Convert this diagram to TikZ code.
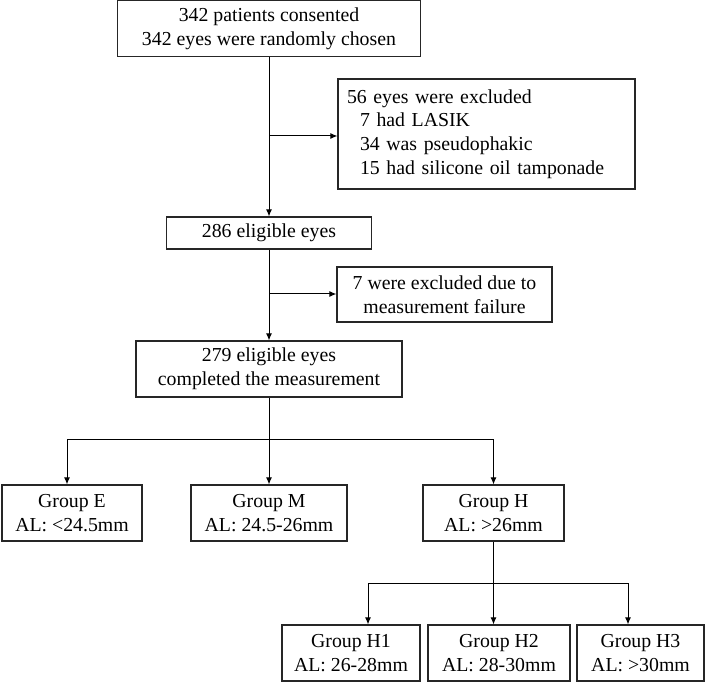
\documentclass[tikz,border=0pt]{standalone}
\usepackage{fontspec}
\setmainfont{Liberation Serif}
\usetikzlibrary{arrows.meta,calc}

\begin{document}
\begin{tikzpicture}[x=0.5pt,y=-0.5pt]

\tikzstyle{box} = [draw=black!85, line width=0.6pt, inner sep=0,
    align=center, minimum height=28pt, font=\fontsize{9.9}{11.8}\selectfont]
\tikzstyle{line} = [draw=black, line width=0.5pt]
\tikzstyle{arrow} = [line, -{Latex[length=3.5pt,width=3pt]}]

\useasboundingbox (0,0) rectangle (710,683);

% =========================
% screening and exclusions
% =========================
\node[box, minimum width=151.5pt] (consent) at (269,28.5)
    {342 patients consented\\342 eyes were randomly chosen};
\node[box, minimum height=55pt, align=left, inner xsep=4.5pt, text width=139.5pt]
    (excl1) at (486.5,134)
    {56 eyes were excluded\\
     \hspace*{6.5pt}7 had LASIK\\
     \hspace*{6.5pt}34 was pseudophakic\\
     \hspace*{6.5pt}15 had silicone oil tamponade};
\node[box, minimum width=102.5pt, minimum height=16pt] (eligible) at (269,233)
    {286 eligible eyes};
\node[box, minimum width=107.5pt, minimum height=27.5pt] (excl2) at (444.5,294.5)
    {7 were excluded due to\\measurement failure};
\node[box, minimum width=133pt] (measured) at (269,369)
    {279 eligible eyes\\completed the measurement};

% =========================
% axial length groups
% =========================
\node[box, minimum width=70pt] (gE) at (72,513) {Group E\\AL: <24.5mm};
\node[box, minimum width=78pt] (gM) at (269,513) {Group M\\AL: 24.5-26mm};
\node[box, minimum width=70.5pt] (gH) at (493.5,513) {Group H\\AL: >26mm};

\node[box, minimum width=69pt] (h1) at (351,653) {Group H1\\AL: 26-28mm};
\node[box, minimum width=71pt] (h2) at (499,653) {Group H2\\AL: 28-30mm};
\node[box, minimum width=63.5pt] (h3) at (640.5,653) {Group H3\\AL: >30mm};

% =========================
% connectors
% =========================
\coordinate (b1) at (269,136);
\coordinate (b2) at (269,294);
\draw[arrow] (consent) -- (eligible);
\draw[arrow] (b1) -- (b1 -| excl1.west);
\draw[arrow] (eligible) -- (measured);
\draw[arrow] (b2) -- (b2 -| excl2.west);

\coordinate (split) at (269,439);
\coordinate (tE) at (67,439);
\coordinate (tH) at (493.5,439);
\draw[line] (measured) -- (split);
\draw[arrow] (split) -- (gM);
\draw[arrow] (split) -- (tE) -- (tE |- gE.north);
\draw[arrow] (split) -- (tH) -- (tH |- gH.north);

\coordinate (hsplit) at (493.5,583);
\coordinate (t1) at (368,583);
\coordinate (t3) at (628,583);
\draw[line] (gH) -- (hsplit);
\draw[arrow] (hsplit) -- (t1) -- (t1 |- h1.north);
\draw[arrow] (hsplit) -- (hsplit |- h2.north);
\draw[arrow] (hsplit) -- (t3) -- (t3 |- h3.north);

\end{tikzpicture}
\end{document}
